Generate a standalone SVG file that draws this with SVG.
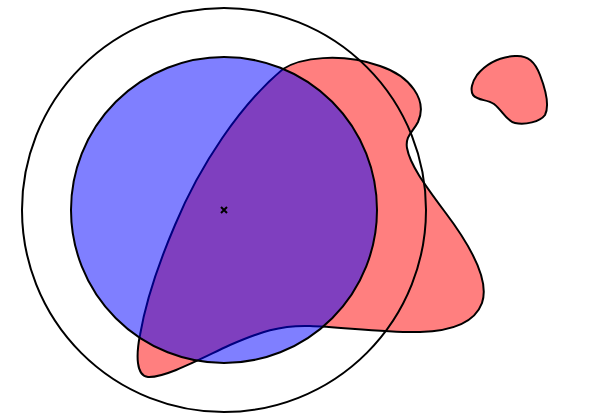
<svg xmlns="http://www.w3.org/2000/svg" width="606" height="414" viewBox="0 0 606 414">
<style>
.blob{fill:rgb(255,0,0);fill-opacity:0.5;stroke:#000;stroke-width:2}
.disc{fill:rgb(0,0,255);fill-opacity:0.5;stroke:#000;stroke-width:2}
.ring{fill:none;stroke:#000;stroke-width:2}
.mark{stroke:#000;stroke-width:2;fill:none}
</style>
<rect width="606" height="414" fill="#fff"/>
<g id="red-blob">
<path class="blob" d="M 283 69 C 300 58, 340 52, 380 66 C 410 76, 428 100, 418 122 C 413 132, 405 136, 407 148 C 410 165, 425 185, 445 212 C 470 245, 490 280, 482 303 C 475 322, 455 331, 420 332 C 390 333, 340 327, 310 326 C 280 325, 260 332, 230 345 C 200 359, 165 378, 148 377 C 136 376, 136 355, 140 335 C 146 300, 160 260, 175 225 C 200 165, 240 105, 283 69 Z"/>
</g>
<g id="small-blob">
<path class="blob" d="M 477 75 C 486 64, 500 57, 515 56 C 528 55, 535 62, 540 75 C 545 88, 550 105, 545 115 C 540 122, 525 125, 515 123 C 506 121, 503 111, 494 104 C 487 99, 478 101, 473 95 C 470 90, 472 82, 477 75 Z"/>
</g>
<g id="blue-circle">
<circle class="disc" cx="224" cy="210" r="153"/>
</g>
<g id="outer-circle">
<circle class="ring" cx="224" cy="210" r="202"/>
</g>
<g id="center-mark">
<path class="mark" d="M 221 207 L 227 213 M 227 207 L 221 213"/>
</g>
</svg>
